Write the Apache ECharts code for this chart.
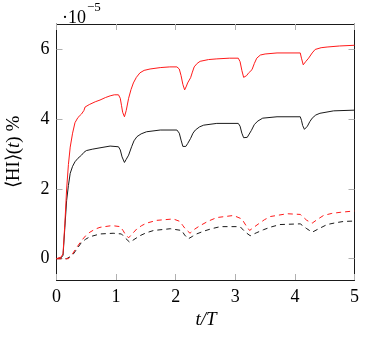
<!DOCTYPE html>
<html><head><meta charset="utf-8">
<script src="https://cdn.jsdelivr.net/npm/echarts@6/dist/echarts.min.js"></script>
<style>html,body{margin:0;padding:0;background:#fff}#c{width:366px;height:340px}</style>
</head><body><div id="c"></div>
<script>
// values in units of 1e-5
var xTicks = [0, 1, 2, 3, 4, 5];
var yTicks = [0, 2, 4, 6];

var redSolidT = [0,0.08,0.11,0.14,0.17,0.2,0.23,0.27,0.31,0.36,0.42,0.46,0.48,0.55,0.65,0.73,0.82,0.9,0.97,1.04,1.07,1.09,1.11,1.14,1.17,1.21,1.25,1.29,1.34,1.4,1.47,1.57,1.74,1.9,2.02,2.06,2.09,2.12,2.15,2.18,2.2,2.25,2.28,2.31,2.36,2.41,2.55,2.69,2.9,3.05,3.08,3.11,3.14,3.16,3.19,3.22,3.28,3.32,3.36,3.42,3.5,3.7,4.09,4.11,4.14,4.18,4.23,4.29,4.34,4.44,4.54,4.75,5.0];
var redSolidV = [0,0.05,0.15,1.0,2.0,2.7,3.2,3.6,3.9,4.05,4.15,4.25,4.35,4.42,4.5,4.55,4.62,4.67,4.7,4.7,4.6,4.4,4.2,4.07,4.25,4.6,4.85,5.04,5.2,5.33,5.4,5.44,5.48,5.5,5.5,5.44,5.25,5.0,4.84,4.95,5.04,5.19,5.35,5.5,5.6,5.66,5.71,5.73,5.75,5.75,5.65,5.4,5.2,5.15,5.25,5.32,5.42,5.6,5.75,5.84,5.87,5.9,5.9,5.75,5.56,5.65,5.75,5.9,6.0,6.05,6.07,6.1,6.12];

var blackSolidT = [0,0.08,0.11,0.14,0.17,0.2,0.23,0.27,0.31,0.36,0.42,0.46,0.5,0.6,0.73,0.9,1.04,1.07,1.1,1.14,1.17,1.21,1.26,1.3,1.35,1.42,1.51,1.74,2.02,2.06,2.09,2.12,2.14,2.17,2.2,2.25,2.29,2.33,2.4,2.47,2.69,3.05,3.08,3.11,3.14,3.16,3.2,3.22,3.27,3.32,3.38,3.46,3.7,4.09,4.11,4.13,4.16,4.19,4.21,4.25,4.29,4.35,4.42,4.65,5.0];
var blackSolidV = [0,0.03,0.1,0.9,1.67,2.1,2.45,2.65,2.78,2.88,2.97,3.05,3.1,3.14,3.18,3.23,3.21,3.12,2.92,2.76,2.85,2.97,3.21,3.38,3.5,3.58,3.64,3.69,3.69,3.6,3.4,3.22,3.18,3.22,3.3,3.45,3.6,3.69,3.78,3.83,3.88,3.88,3.8,3.6,3.47,3.45,3.48,3.52,3.68,3.85,3.95,4.03,4.07,4.07,3.97,3.82,3.71,3.75,3.8,3.93,4.03,4.12,4.17,4.24,4.26];

var redDashT = [0,0.2,0.25,0.33,0.42,0.49,0.56,0.65,0.73,0.93,1.07,1.12,1.15,1.21,1.28,1.35,1.43,1.51,1.68,1.96,2.07,2.12,2.16,2.24,2.32,2.41,2.55,2.69,2.97,3.11,3.18,3.24,3.31,3.39,3.49,3.59,3.87,4.09,4.2,4.29,4.38,4.48,4.62,4.76,5.0];
var redDashV = [0,0,0.09,0.3,0.52,0.66,0.76,0.85,0.9,0.95,0.92,0.8,0.71,0.6,0.73,0.86,0.95,1.02,1.1,1.14,1.07,0.95,0.86,0.73,0.85,0.95,1.08,1.18,1.24,1.14,0.95,0.81,0.9,1.0,1.12,1.21,1.29,1.27,1.1,1.02,1.13,1.24,1.3,1.33,1.37];

var blackDashT = [0,0.17,0.22,0.28,0.35,0.42,0.49,0.56,0.73,0.95,1.09,1.15,1.23,1.3,1.4,1.5,1.63,1.91,2.1,2.15,2.21,2.28,2.35,2.47,2.6,2.75,3.08,3.17,3.25,3.35,3.47,3.6,3.75,4.09,4.2,4.29,4.4,4.54,4.68,4.82,5.0];
var blackDashV = [0,0,0.05,0.13,0.3,0.47,0.56,0.63,0.71,0.73,0.71,0.6,0.47,0.55,0.66,0.74,0.81,0.86,0.81,0.68,0.57,0.64,0.71,0.79,0.86,0.92,0.92,0.76,0.66,0.74,0.83,0.91,0.98,1.0,0.86,0.76,0.86,0.98,1.03,1.07,1.08];

function pairs(t, v) { return t.map(function (x, i) { return [x, v[i]]; }); }

var serif = 'Liberation Serif';
var tickStyle = { show: true, inside: true, length: 6, lineStyle: { color: '#b0b0b0', width: 1 } };
var lineStyleAx = { show: true, onZero: false, lineStyle: { color: '#1a1a1a', width: 1 } };

var chart = echarts.init(document.getElementById('c'), null, { renderer: 'canvas' });
chart.setOption({
  animation: false,
  backgroundColor: '#fff',
  grid: { left: 56.5, right: 11.5, top: 24, bottom: 60, containLabel: false },
  xAxis: [
    { type: 'value', min: 0, max: 5, interval: 1, position: 'bottom',
      axisLine: lineStyleAx, axisTick: tickStyle, splitLine: { show: false },
      axisLabel: { show: true, margin: 8, fontFamily: serif, fontSize: 18, color: '#000', customValues: xTicks },
      name: '' },
    { type: 'value', min: 0, max: 5, interval: 1, position: 'top',
      axisLine: lineStyleAx, axisTick: tickStyle, splitLine: { show: false },
      axisLabel: { show: false } }
  ],
  yAxis: [
    { type: 'value', min: -0.61, max: 6.73, position: 'left',
      axisLine: lineStyleAx, splitLine: { show: false },
      axisTick: Object.assign({ customValues: yTicks }, tickStyle),
      axisLabel: { show: true, margin: 7, fontFamily: serif, fontSize: 18, color: '#000', customValues: yTicks } },
    { type: 'value', min: -0.61, max: 6.73, position: 'right',
      axisLine: lineStyleAx, splitLine: { show: false },
      axisTick: Object.assign({ customValues: yTicks }, tickStyle),
      axisLabel: { show: false } }
  ],
  series: [
    { type: 'line', data: pairs(redSolidT, redSolidV), showSymbol: false, symbol: 'none',
      lineStyle: { color: '#ff1a1a', width: 1 }, z: 4 },
    { type: 'line', data: pairs(blackSolidT, blackSolidV), showSymbol: false, symbol: 'none',
      lineStyle: { color: '#1a1a1a', width: 1 }, z: 3 },
    { type: 'line', data: pairs(redDashT, redDashV), showSymbol: false, symbol: 'none',
      lineStyle: { color: '#ff1a1a', width: 1, type: [5, 4] }, z: 4 },
    { type: 'line', data: pairs(blackDashT, blackDashV), showSymbol: false, symbol: 'none',
      lineStyle: { color: '#1a1a1a', width: 1, type: [5, 4] }, z: 3 }
  ],
  graphic: [
    { type: 'text', left: 62, top: 1, style: {
        text: '{a|·10}{b|−5}', rich: {
          a: { fontFamily: serif, fontSize: 18, fill: '#000', verticalAlign: 'bottom', padding: [8, 0, 0, 0] },
          b: { fontFamily: serif, fontSize: 13, fill: '#000', verticalAlign: 'top', padding: [0, 0, 10, 1] }
        } } },
    { type: 'text', x: 14, y: 152, rotation: Math.PI / 2, style: {
        text: '⟨HI⟩({i|t}) %', fontFamily: serif, fontSize: 19, fill: '#000',
        align: 'center', verticalAlign: 'middle',
        rich: { i: { fontFamily: serif, fontSize: 19, fontStyle: 'italic', fill: '#000' } } } },
    { type: 'text', x: 206, y: 320, style: {
        text: 't/T', fontFamily: serif, fontSize: 19, fontStyle: 'italic', fill: '#000',
        align: 'center', verticalAlign: 'middle' } }
  ]
});
</script></body></html>
